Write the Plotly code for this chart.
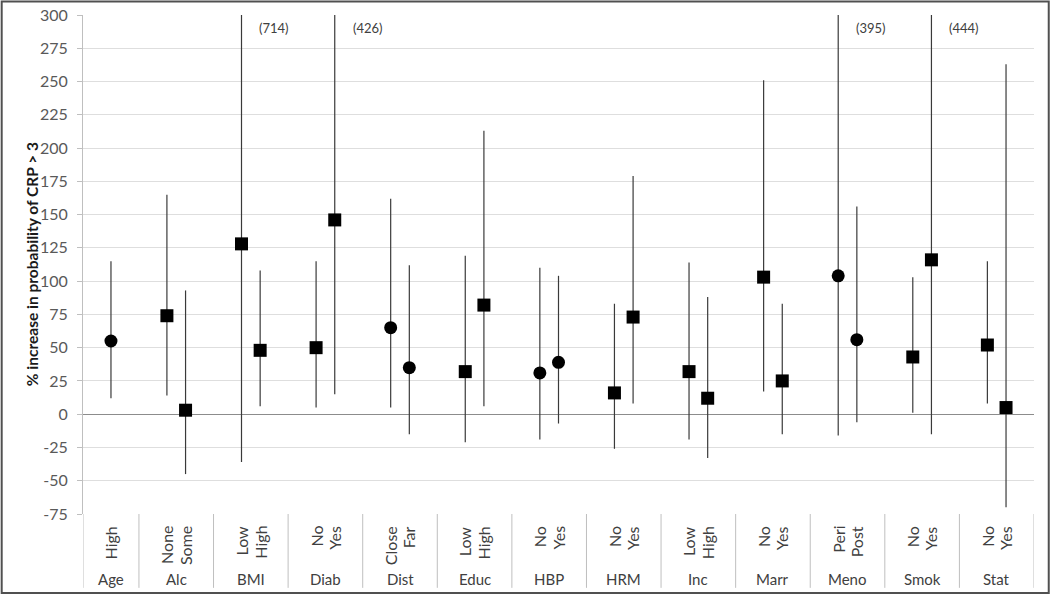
import plotly.graph_objects as go

# data
groups = ["Age", "Alc", "BMI", "Diab", "Dist", "Educ", "HBP", "HRM",
          "Inc", "Marr", "Meno", "Smok", "Stat"]
levels = [["High"], ["None", "Some"], ["Low", "High"], ["No", "Yes"],
          ["Close", "Far"], ["Low", "High"], ["No", "Yes"], ["No", "Yes"],
          ["Low", "High"], ["No", "Yes"], ["Peri", "Post"], ["No", "Yes"],
          ["No", "Yes"]]
estimate = [55, 74, 3, 128, 48, 50, 146, 65, 35, 32, 82, 31, 39, 16, 73,
            32, 12, 103, 25, 104, 56, 43, 116, 52, 5]
lower = [12, 14, -45, -36, 6, 5, 15, 5, -15, -21, 6, -19, -7, -26, 8,
         -19, -33, 17, -15, -16, -6, 1, -15, 8, -70]
upper = [115, 165, 93, 714, 108, 115, 426, 162, 112, 119, 213, 110, 104,
         83, 179, 114, 88, 251, 83, 395, 156, 103, 444, 115, 263]
markers = ["circle", "square", "square", "square", "square", "square",
           "square", "circle", "circle", "square", "square", "circle",
           "circle", "square", "square", "square", "square", "square",
           "square", "circle", "circle", "square", "square", "square",
           "square"]
y_ticks = list(range(-75, 301, 25))

FONT = "Lato"
Y_MIN, Y_MAX = -75, 300

# each group gets one empty slot on both sides of its levels
x_pos = []
bounds = [0]
slot = 0
for lv in levels:
    for i in range(len(lv)):
        x_pos.append(slot + 1 + i + 0.5)
    slot += len(lv) + 2
    bounds.append(slot)
n_slots = slot

fig = go.Figure()
fig.add_trace(go.Scatter(
    x=x_pos,
    y=estimate,
    mode="markers",
    marker=dict(symbol=markers, size=13, color="black"),
    error_y=dict(
        type="data",
        symmetric=False,
        array=[u - e for u, e in zip(upper, estimate)],
        arrayminus=[e - l for e, l in zip(estimate, lower)],
        width=0,
        thickness=1.2,
        color="#3a3a3a",
    ),
    showlegend=False,
))

annotations = []
shapes = []
k = 0
for g, lv, b0, b1 in zip(groups, levels, bounds[:-1], bounds[1:]):
    for name in lv:
        annotations.append(dict(
            x=x_pos[k], y=-0.02, xref="x", yref="paper",
            text=name, textangle=-90, showarrow=False,
            xanchor="center", yanchor="top",
            font=dict(family=FONT, size=16, color="#404040"),
        ))
        if upper[k] > Y_MAX:
            annotations.append(dict(
                x=x_pos[k] + 0.85, y=290, xref="x", yref="y",
                text="(%d)" % upper[k], showarrow=False,
                xanchor="left", yanchor="middle",
                font=dict(family=FONT, size=13, color="#404040"),
            ))
        k += 1
    annotations.append(dict(
        x=(b0 + b1) / 2, y=-0.131, xref="x", yref="paper",
        text=g, showarrow=False, xanchor="center", yanchor="middle",
        font=dict(family=FONT, size=15, color="#404040"),
    ))
for b in bounds:
    shapes.append(dict(
        type="line", xref="x", yref="paper", x0=b, x1=b, y0=0, y1=-0.148,
        line=dict(color="#bfbfbf", width=1),
    ))

annotations.append(dict(
    x=-0.054, y=0.5, xref="paper", yref="paper",
    text="<b>% increase in probability of CRP > 3</b>", textangle=-90,
    showarrow=False, xanchor="center", yanchor="middle",
    font=dict(family=FONT, size=15.5, color="#1a1a1a"),
))

# outer frame of the picture
shapes.append(dict(
    type="rect", xref="paper", yref="paper",
    x0=-0.0855, x1=1.0155, y0=-0.1585, y1=1.027,
    line=dict(color="#505050", width=2),
))

fig.update_layout(
    width=1050,
    height=595,
    margin=dict(l=83, r=16, t=15, b=81, autoexpand=False),
    plot_bgcolor="white",
    paper_bgcolor="white",
    xaxis=dict(
        range=[0, n_slots],
        showticklabels=False,
        showgrid=False,
        zeroline=False,
        showline=False,
        fixedrange=True,
    ),
    yaxis=dict(
        range=[Y_MIN, Y_MAX],
        automargin=False,
        tickvals=y_ticks,
        ticktext=[str(v) for v in y_ticks],
        showgrid=True,
        gridcolor="#dedede",
        gridwidth=1,
        zeroline=True,
        zerolinecolor="#8c8c8c",
        zerolinewidth=1,
        showline=True,
        linecolor="#bfbfbf",
        ticks="outside",
        ticklen=5,
        tickcolor="#bfbfbf",
        ticklabelstandoff=6,
        tickfont=dict(family=FONT, size=16, color="#595959"),
    ),
    annotations=annotations,
    shapes=shapes,
)

# page margin off so the figure sits at the window corner
fig.write_html("out.html", config={"displayModeBar": False},
               post_script="document.body.style.margin='0';")
